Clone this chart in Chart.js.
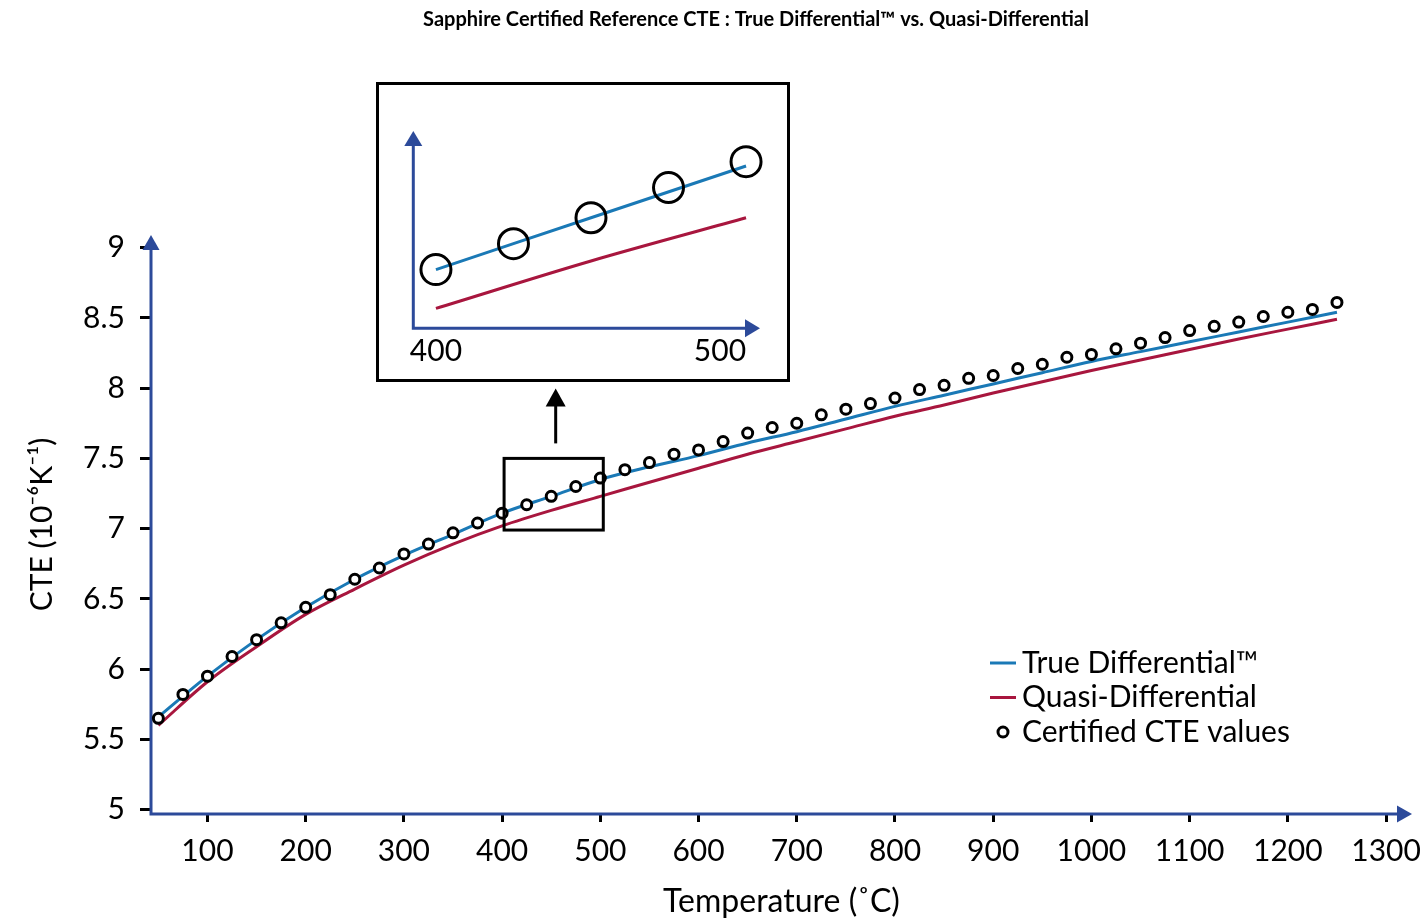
<!DOCTYPE html>
<html>
<head>
<meta charset="utf-8">
<title>Sapphire Certified Reference CTE</title>
<script src="https://cdn.jsdelivr.net/npm/chart.js@4.4.1/dist/chart.umd.min.js"></script>
<style>
    body { margin: 0; background: #fff; }
    #wrap { position: relative; width: 1420px; height: 922px; }
    #main { position: absolute; left: 0; top: 0; }
    #insetBox {
        position: absolute; left: 376px; top: 82px; width: 414px; height: 300px;
        border: 3px solid #000; box-sizing: border-box; background: #fff;
    }
    #inset { display: block; }
</style>
</head>
<body>
<div id="wrap">
    <canvas id="main" width="1420" height="922"></canvas>
    <div id="insetBox"><canvas id="inset" width="408" height="294"></canvas></div>
</div>
<script>
// Axis ticks
const xTicks = [100, 200, 300, 400, 500, 600, 700, 800, 900, 1000, 1100, 1200, 1300];
const yTicks = [5, 5.5, 6, 6.5, 7, 7.5, 8, 8.5, 9];
const insetTicks = [400, 500];

// Certified CTE values (every 25 °C)
const certTemps = [50, 75, 100, 125, 150, 175, 200, 225, 250, 275, 300, 325, 350, 375, 400, 425, 450, 475,
    500, 525, 550, 575, 600, 625, 650, 675, 700, 725, 750, 775, 800, 825, 850, 875, 900, 925, 950, 975,
    1000, 1025, 1050, 1075, 1100, 1125, 1150, 1175, 1200, 1225, 1250];
const certCTE = [5.65, 5.82, 5.95, 6.09, 6.21, 6.33, 6.44, 6.53, 6.64, 6.72, 6.82, 6.89, 6.97, 7.04, 7.11, 7.17, 7.23, 7.30,
    7.36, 7.42, 7.47, 7.53, 7.56, 7.62, 7.68, 7.72, 7.75, 7.81, 7.85, 7.89, 7.93, 7.99, 8.02, 8.07, 8.09, 8.14, 8.17, 8.22,
    8.24, 8.28, 8.32, 8.36, 8.41, 8.44, 8.47, 8.51, 8.54, 8.56, 8.61];

// Measured curves
const lineTemps = [50, 100, 150, 200, 250, 300, 350, 400, 450, 500, 550, 600, 650, 700, 750, 800, 850, 900,
    950, 1000, 1050, 1100, 1150, 1200, 1250];
const trueDiff = [5.66, 5.95, 6.21, 6.44, 6.64, 6.81, 6.96, 7.11, 7.23, 7.35, 7.44, 7.52, 7.61, 7.69, 7.78, 7.87, 7.95, 8.03,
    8.11, 8.19, 8.26, 8.33, 8.40, 8.47, 8.54];
const quasiDiff = [5.60, 5.91, 6.16, 6.39, 6.57, 6.74, 6.89, 7.02, 7.13, 7.23, 7.33, 7.43, 7.53, 7.62, 7.71, 7.80, 7.88, 7.965,
    8.045, 8.125, 8.20, 8.275, 8.35, 8.42, 8.49];

// Zoomed window shown in the inset
const zoomTemps = [402, 503];
const zoomCTE = [6.99, 7.50];

const FONT = "Lato, 'Open Sans', 'DejaVu Sans', sans-serif";
const AXIS_BLUE = '#2c4a9a';
const TRUE_BLUE = '#1a79b6';
const QUASI_RED = '#a8163e';

Chart.defaults.color = '#000';
Chart.defaults.font.family = FONT;

const pts = (xs, ys) => xs.map((x, i) => ({ x: x, y: ys[i] }));
const inRange = (xs, ys, lo, hi) => pts(xs, ys).filter(p => p.x >= lo && p.x <= hi);
const plain = v => String(v);

// Fixed axis sizes, no extra room for overflowing labels
const fixX = h => s => { s.height = h; s.paddingLeft = 0; s.paddingRight = 0; };
const fixY = w => s => { s.width = w; s.paddingTop = 0; s.paddingBottom = 0; };

// Axis lines with arrow heads, drawn along the chart area edges
const arrowAxes = {
    id: 'arrowAxes',
    beforeDatasetsDraw(chart, args, o) {
        const { ctx, chartArea: a } = chart;
        ctx.save();
        ctx.strokeStyle = o.color;
        ctx.fillStyle = o.color;
        ctx.lineWidth = o.width;
        ctx.beginPath();
        ctx.moveTo(a.left, a.top + o.head);
        ctx.lineTo(a.left, a.bottom);
        ctx.lineTo(a.right - o.head, a.bottom);
        ctx.stroke();
        ctx.beginPath();
        ctx.moveTo(a.left, a.top);
        ctx.lineTo(a.left - o.half, a.top + o.head);
        ctx.lineTo(a.left + o.half, a.top + o.head);
        ctx.closePath();
        ctx.fill();
        ctx.beginPath();
        ctx.moveTo(a.right, a.bottom);
        ctx.lineTo(a.right - o.head, a.bottom - o.half);
        ctx.lineTo(a.right - o.head, a.bottom + o.half);
        ctx.closePath();
        ctx.fill();
        ctx.restore();
    }
};

// Chart title with the trade mark sign
const titleText = {
    id: 'titleText',
    afterDraw(chart, args, o) {
        const ctx = chart.ctx;
        ctx.save();
        ctx.font = o.font;
        ctx.fillStyle = '#000';
        ctx.textAlign = 'center';
        ctx.textBaseline = 'middle';
        ctx.fillText(o.text, o.x, o.y);
        ctx.restore();
    }
};

// Rectangle round the zoomed window and the arrow pointing to the inset
const zoomBox = {
    id: 'zoomBox',
    afterDatasetsDraw(chart) {
        const { ctx, scales: { x, y } } = chart;
        const l = x.getPixelForValue(zoomTemps[0]), r = x.getPixelForValue(zoomTemps[1]);
        const t = y.getPixelForValue(zoomCTE[1]), b = y.getPixelForValue(zoomCTE[0]);
        const cx = (l + r) / 2 + 2;
        ctx.save();
        ctx.strokeStyle = '#000';
        ctx.fillStyle = '#000';
        ctx.lineWidth = 3;
        ctx.strokeRect(l, t, r - l, b - t);
        ctx.beginPath();
        ctx.moveTo(cx, t - 15);
        ctx.lineTo(cx, t - 55);
        ctx.stroke();
        ctx.beginPath();
        ctx.moveTo(cx, t - 70);
        ctx.lineTo(cx - 10, t - 52);
        ctx.lineTo(cx + 10, t - 52);
        ctx.closePath();
        ctx.fill();
        ctx.restore();
    }
};

// Legend in the lower right of the plot
const legendBox = {
    id: 'legendBox',
    afterDraw(chart, args, o) {
        const ctx = chart.ctx;
        const sets = chart.data.datasets;
        const order = [1, 2, 0];
        ctx.save();
        ctx.font = o.font;
        ctx.textBaseline = 'middle';
        ctx.textAlign = 'left';
        order.forEach((di, row) => {
            const ds = sets[di];
            const yy = o.y + row * o.gap;
            if (ds.showLine === false) {
                ctx.beginPath();
                ctx.arc(o.x + o.sample / 2, yy, 5, 0, Math.PI * 2);
                ctx.fillStyle = '#fff';
                ctx.fill();
                ctx.lineWidth = 3;
                ctx.strokeStyle = ds.pointBorderColor;
                ctx.stroke();
            } else {
                ctx.beginPath();
                ctx.moveTo(o.x, yy);
                ctx.lineTo(o.x + o.sample, yy);
                ctx.lineWidth = 3;
                ctx.strokeStyle = ds.borderColor;
                ctx.stroke();
            }
            ctx.fillStyle = '#000';
            ctx.fillText(ds.label, o.textX, yy);
        });
        ctx.restore();
    }
};

new Chart(document.getElementById('main'), {
    type: 'scatter',
    data: {
        datasets: [
            {
                label: 'Certified CTE values',
                data: pts(certTemps, certCTE),
                showLine: false,
                pointRadius: 5,
                pointBorderWidth: 3,
                pointBorderColor: '#000',
                pointBackgroundColor: '#fff'
            },
            {
                label: 'True Differential™',
                data: pts(lineTemps, trueDiff),
                showLine: true,
                borderColor: TRUE_BLUE,
                borderWidth: 3,
                pointRadius: 0,
                cubicInterpolationMode: 'monotone'
            },
            {
                label: 'Quasi-Differential',
                data: pts(lineTemps, quasiDiff),
                showLine: true,
                borderColor: QUASI_RED,
                borderWidth: 3,
                pointRadius: 0,
                cubicInterpolationMode: 'monotone'
            }
        ]
    },
    options: {
        responsive: false,
        animation: false,
        events: [],
        layout: { padding: { top: 235, right: 7, left: 0, bottom: 0 } },
        plugins: {
            legend: { display: false },
            tooltip: { enabled: false },
            arrowAxes: { color: AXIS_BLUE, width: 3, head: 15, half: 8.5 },
            titleText: {
                text: 'Sapphire Certified Reference CTE : True Differential™ vs. Quasi-Differential',
                x: 756, y: 20, font: 'bold 20px ' + FONT
            },
            legendBox: { x: 990, y: 663, gap: 34.5, sample: 26, textX: 1022, font: '30px ' + FONT }
        },
        scales: {
            x: {
                type: 'linear',
                min: 42.5,
                max: 1326.4,
                afterBuildTicks: s => { s.ticks = xTicks.map(v => ({ value: v })); },
                afterFit: fixX(108),
                border: { display: false },
                grid: { drawOnChartArea: false, drawTicks: true, tickLength: 8, tickWidth: 3, tickColor: '#000' },
                ticks: { font: { size: 30 }, color: '#000', padding: 11, maxRotation: 0, autoSkip: false, callback: plain },
                title: {
                    display: true, text: 'Temperature (˚C)', color: '#000',
                    font: { size: 32 }, padding: { top: 0, bottom: 1 }
                }
            },
            y: {
                type: 'linear',
                min: 4.969,
                max: 9.09,
                afterBuildTicks: s => { s.ticks = yTicks.map(v => ({ value: v })); },
                afterFit: fixY(151),
                border: { display: false },
                grid: { drawOnChartArea: false, drawTicks: true, tickLength: 11, tickWidth: 3, tickColor: '#000' },
                ticks: { font: { size: 30 }, color: '#000', padding: 15, autoSkip: false, callback: plain },
                title: {
                    display: true, text: 'CTE (10⁻⁶K⁻¹)', color: '#000',
                    font: { size: 30 }, padding: { top: 24, bottom: 0 }
                }
            }
        }
    },
    plugins: [arrowAxes, zoomBox, titleText, legendBox]
});

// Tick labels of the inset: first centred, last right aligned
const insetLabels = {
    id: 'insetLabels',
    afterDraw(chart, args, o) {
        const { ctx, scales: { x } } = chart;
        ctx.save();
        ctx.font = o.font;
        ctx.fillStyle = '#000';
        ctx.textBaseline = 'middle';
        insetTicks.forEach((v, i) => {
            ctx.textAlign = o.align[i];
            ctx.fillText(String(v), x.getPixelForValue(v), o.y);
        });
        ctx.restore();
    }
};

new Chart(document.getElementById('inset'), {
    type: 'scatter',
    data: {
        datasets: [
            {
                label: 'Certified CTE values',
                data: inRange(certTemps, certCTE, 400, 500),
                showLine: false,
                clip: false,
                pointRadius: 15,
                pointBorderWidth: 3,
                pointBorderColor: '#000',
                pointBackgroundColor: 'rgba(0,0,0,0)'
            },
            {
                label: 'True Differential™',
                data: inRange(lineTemps, trueDiff, 400, 500),
                showLine: true,
                borderColor: TRUE_BLUE,
                borderWidth: 3,
                pointRadius: 0,
                cubicInterpolationMode: 'monotone'
            },
            {
                label: 'Quasi-Differential',
                data: inRange(lineTemps, quasiDiff, 400, 500),
                showLine: true,
                borderColor: QUASI_RED,
                borderWidth: 3,
                pointRadius: 0,
                cubicInterpolationMode: 'monotone'
            }
        ]
    },
    options: {
        responsive: false,
        animation: false,
        events: [],
        layout: { padding: { top: 46, right: 27, left: 0, bottom: 0 } },
        plugins: {
            legend: { display: false },
            tooltip: { enabled: false },
            arrowAxes: { color: AXIS_BLUE, width: 3, head: 15, half: 9 },
            insetLabels: { y: 266, align: ['center', 'right'], font: '30px ' + FONT }
        },
        scales: {
            x: {
                type: 'linear', min: 392.7, max: 504.5,
                afterFit: fixX(50.7),
                border: { display: false },
                grid: { display: false },
                ticks: { display: false }
            },
            y: {
                type: 'linear', min: 6.974, max: 7.431,
                afterFit: fixY(34.3),
                border: { display: false },
                grid: { display: false },
                ticks: { display: false }
            }
        }
    },
    plugins: [arrowAxes, insetLabels]
});
</script>
</body>
</html>
